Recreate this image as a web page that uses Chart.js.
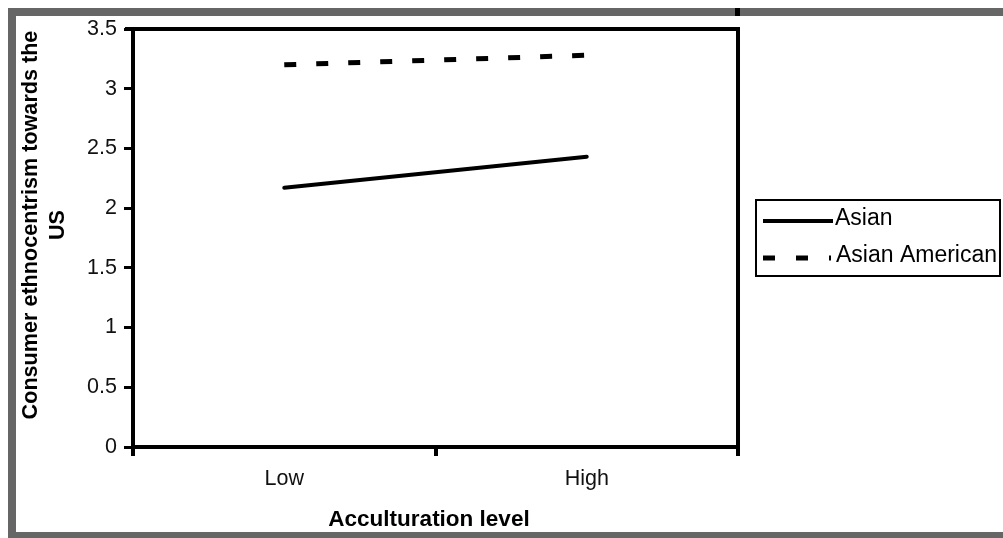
<!DOCTYPE html>
<html>
<head>
<meta charset="utf-8">
<script src="https://cdn.jsdelivr.net/npm/chart.js@4.4.1/dist/chart.umd.min.js"></script>
<style>
  html, body { margin: 0; padding: 0; background: #fff; }
  #wrap { width: 1003px; height: 538px; position: relative; }
</style>
</head>
<body>
<div id="wrap"><canvas id="c" width="1003" height="538"></canvas></div>
<script>
const categories = ['Low', 'High'];
const asianValues = [2.17, 2.43];
const asianAmericanValues = [3.20, 3.28];
const seriesNames = ['Asian', 'Asian American'];
const yTickValues = [0, 0.5, 1, 1.5, 2, 2.5, 3, 3.5];
const yTitleLines = ['Consumer ethnocentrism towards the', 'US'];
const xTitle = 'Acculturation level';

const FONT = '"Liberation Sans", Arial, sans-serif';

const decor = {
  id: 'decor',
  beforeDraw(chart) {
    const ctx = chart.ctx;
    ctx.save();
    ctx.fillStyle = '#fff';
    ctx.fillRect(0, 0, chart.width, chart.height);
    ctx.restore();
  },
  afterDraw(chart) {
    const ctx = chart.ctx;
    const a = chart.chartArea;
    ctx.save();
    // plot frame top and right
    ctx.strokeStyle = '#000';
    ctx.lineWidth = 4;
    ctx.beginPath();
    ctx.moveTo(a.left - 8, a.top);
    ctx.lineTo(a.right, a.top);
    ctx.lineTo(a.right, a.bottom);
    ctx.stroke();

    // axis titles
    ctx.fillStyle = '#000';
    ctx.textAlign = 'center';
    ctx.textBaseline = 'middle';
    ctx.font = 'bold 22.5px ' + FONT;
    ctx.fillText(xTitle, 429, 520);
    ctx.font = 'bold 21.6px ' + FONT;
    ctx.save();
    ctx.translate(31, 225);
    ctx.rotate(-Math.PI / 2);
    ctx.fillText(yTitleLines[0], 0, 0);
    ctx.fillText(yTitleLines[1], 0, 27);
    ctx.restore();

    // legend
    const ds = chart.data.datasets;
    ctx.lineWidth = 2;
    ctx.strokeStyle = '#000';
    ctx.strokeRect(756, 200, 244, 76);
    ctx.font = '23px ' + FONT;
    ctx.textAlign = 'left';
    ctx.textBaseline = 'middle';
    // row 1
    ctx.lineWidth = ds[0].borderWidth;
    ctx.setLineDash([]);
    ctx.beginPath();
    ctx.moveTo(763, 221);
    ctx.lineTo(833, 221);
    ctx.stroke();
    ctx.fillText(ds[0].label, 835, 219);
    // row 2
    ctx.lineWidth = ds[1].borderWidth;
    ctx.setLineDash([12, 21]);
    ctx.lineCap = 'butt';
    ctx.beginPath();
    ctx.moveTo(763, 258);
    ctx.lineTo(831, 258);
    ctx.stroke();
    ctx.setLineDash([]);
    ctx.fillText(ds[1].label, 836, 256);

    // outer grey frame
    ctx.fillStyle = '#666';
    ctx.fillRect(8, 8, chart.width - 8, 8);
    ctx.fillRect(8, 8, 8, chart.height - 8);
    ctx.fillRect(8, 532, chart.width - 8, 6);
    ctx.fillStyle = '#000';
    ctx.fillRect(735, 8, 5, 8);
    ctx.restore();
  }
};

new Chart(document.getElementById('c'), {
  type: 'line',
  data: {
    labels: categories,
    datasets: [
      {
        label: seriesNames[0],
        data: asianValues,
        borderColor: '#000',
        borderWidth: 4,
        pointRadius: 0,
        tension: 0,
        borderCapStyle: 'round'
      },
      {
        label: seriesNames[1],
        data: asianAmericanValues,
        borderColor: '#000',
        borderWidth: 5,
        borderDash: [12, 20],
        pointRadius: 0,
        tension: 0,
        borderCapStyle: 'butt'
      }
    ]
  },
  options: {
    responsive: false,
    animation: false,
    devicePixelRatio: 1,
    layout: { padding: { left: 0, top: 29, right: 265, bottom: 0 } },
    plugins: {
      legend: { display: false },
      tooltip: { enabled: false }
    },
    scales: {
      x: {
        type: 'category',
        offset: true,
        afterFit(scale) { scale.height = 91; },
        grid: {
          offset: true,
          drawOnChartArea: false,
          drawTicks: true,
          tickLength: 9,
          color: '#000',
          lineWidth: 4
        },
        border: { display: true, color: '#000', width: 4 },
        ticks: {
          color: '#111',
          font: { family: FONT, size: 21.5 },
          padding: 10,
          maxRotation: 0
        }
      },
      y: {
        min: 0,
        max: 3.5,
        afterFit(scale) { scale.width = 133; },
        afterBuildTicks(scale) { scale.ticks = yTickValues.map(v => ({ value: v })); },
        grid: {
          drawOnChartArea: false,
          drawTicks: true,
          tickLength: 9,
          color: '#000',
          lineWidth: 3
        },
        border: { display: true, color: '#000', width: 4 },
        ticks: {
          color: '#111',
          font: { family: FONT, size: 21.5 },
          padding: 7,
          callback: (v) => String(v)
        }
      }
    }
  },
  plugins: [decor]
});
</script>
</body>
</html>
